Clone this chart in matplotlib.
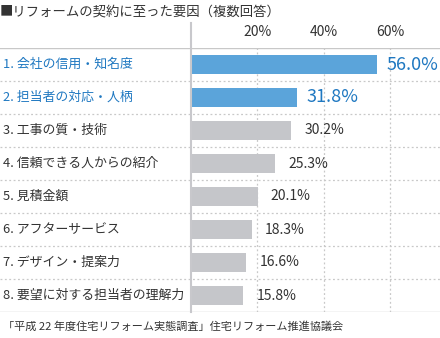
import matplotlib
matplotlib.use("Agg")
import matplotlib.pyplot as plt
import matplotlib.transforms as mtransforms

plt.rcParams['font.family'] = ['Noto Sans CJK JP', 'DejaVu Sans']

title = "■リフォームの契約に至った要因（複数回答）"
source = "「平成 22 年度住宅リフォーム実態調査」住宅リフォーム推進協議会"
labels = ["1. 会社の信用・知名度", "2. 担当者の対応・人柄", "3. 工事の質・技術",
          "4. 信頼できる人からの紹介", "5. 見積金額", "6. アフターサービス",
          "7. デザイン・提案力", "8. 要望に対する担当者の理解力"]
values = [56.0, 31.8, 30.2, 25.3, 20.1, 18.3, 16.6, 15.8]
highlight = [True, True, False, False, False, False, False, False]
ticks = [20, 40, 60]

blue_bar = "#5ba4da"
blue_txt = "#1f78c1"
grey_bar = "#c5c6ca"
dark = "#333333"
line_c = "#c8c8c8"

W, H = 440, 338
fig = plt.figure(figsize=(W / 100, H / 100), dpi=100)
top_px, bot_px = 48, 312
ax = fig.add_axes([0, (H - bot_px) / H, 1, (bot_px - top_px) / H])

zero_px = 191
scale = 3.32  # px per percent
ax.set_xlim(-zero_px / scale, (W - zero_px) / scale)
n = len(values)
ax.set_ylim(n - 0.5, -0.5)
ax.axis("off")

# row separators
for k in range(1, n):
    ax.axhline(k - 0.5, color=line_c, lw=0.9, ls=(0, (1.5, 2)), zorder=1)
ax.axhline(-0.5, color=line_c, lw=1.0, zorder=1)
ax.axhline(n - 0.5, color=line_c, lw=1.0, zorder=1)

# vertical grid + tick labels
xt = mtransforms.blended_transform_factory(ax.transData, ax.transAxes)
for t in ticks:
    ax.axvline(t, color=line_c, lw=0.9, ls=(0, (1.5, 2)), zorder=1)
    ax.text(t, 1 + (top_px - 32) / (bot_px - top_px), f"{t}%", transform=xt,
            ha="center", va="center", fontsize=10, color=dark)
ax.axvline(0, ymin=0, ymax=1 + (top_px - 23) / (bot_px - top_px), color="#c8c8cc", lw=1.5, zorder=3, clip_on=False)

tx = mtransforms.blended_transform_factory(ax.transAxes, ax.transData)
for i, (lab, v, hl) in enumerate(zip(labels, values, highlight)):
    ax.barh(i, v, height=0.55, color=blue_bar if hl else grey_bar, zorder=2)
    ax.text(3 / W, i, lab, transform=tx, ha="left", va="center", fontsize=9.3,
            color=blue_txt if hl else dark)
    ax.annotate(f"{v:.1f}%", (v, i), xytext=(7 if hl else 9.5, 0), textcoords="offset points",
                ha="left", va="center", fontsize=13 if hl else 10,
                color=blue_txt if hl else dark)

fig.text(0, 1 - 12 / H, title, ha="left", va="center", fontsize=9.6, color=dark)
fig.text(3 / W, 1 - 327 / H, source, ha="left", va="center", fontsize=8, color=dark)

fig.savefig("out.png", dpi=100)
